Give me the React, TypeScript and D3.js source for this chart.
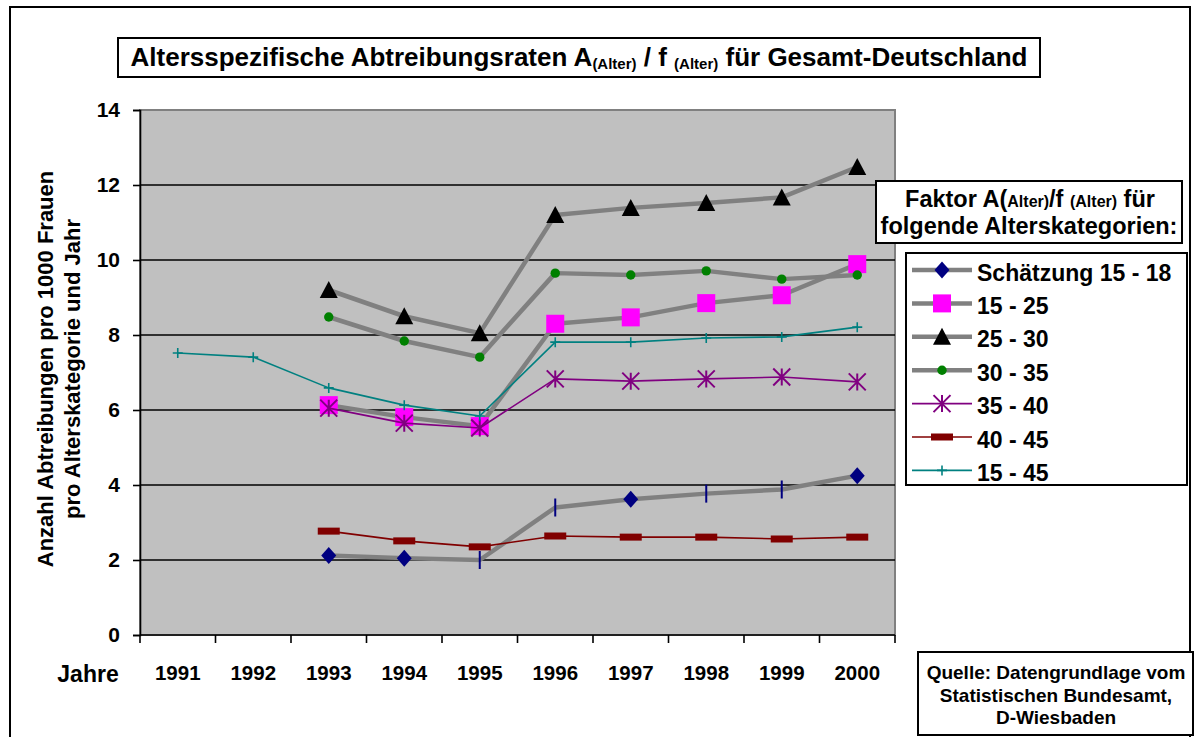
import React, { useEffect, useRef } from 'react';
import * as d3 from 'd3';

// categories / ticks
const years = ['1991', '1992', '1993', '1994', '1995', '1996', '1997', '1998', '1999', '2000'];
const yTicks = [0, 2, 4, 6, 8, 10, 12, 14];

// series values (per 1000 women)
const schaetzung1518 = [null, null, 2.12, 2.05, 2.0, 3.4, 3.62, 3.77, 3.88, 4.25];
const schaetzungMarkers = ['', '', 'diamond', 'diamond', 'vbar', 'vbar', 'diamond', 'vbar', 'vbar', 'diamond'];
const alter1525 = [null, null, 6.13, 5.81, 5.57, 8.3, 8.47, 8.85, 9.06, 9.89];
const alter2530 = [null, null, 9.2, 8.5, 8.05, 11.2, 11.39, 11.52, 11.67, 12.48];
const alter3035 = [null, null, 8.48, 7.84, 7.41, 9.65, 9.6, 9.71, 9.49, 9.6];
const alter3540 = [null, null, 6.05, 5.65, 5.52, 6.83, 6.77, 6.83, 6.88, 6.75];
const alter4045 = [null, null, 2.77, 2.51, 2.35, 2.64, 2.61, 2.61, 2.56, 2.61];
const alter1545 = [7.52, 7.41, 6.59, 6.13, 5.84, 7.81, 7.81, 7.92, 7.95, 8.21];

const sourceLines = ['Quelle: Datengrundlage vom', 'Statistischen Bundesamt,', 'D-Wiesbaden'];

const FONT = "'Liberation Sans', Arial, Helvetica, sans-serif";

type Series = {
  name: string;
  values: (number | null)[];
  stroke: string;
  width: number;
  marker: string;
  markers?: string[];
};

const series: Series[] = [
  { name: 'Schätzung 15 - 18', values: schaetzung1518, stroke: '#808080', width: 4.5, marker: 'diamond', markers: schaetzungMarkers },
  { name: '15 - 25', values: alter1525, stroke: '#808080', width: 4.5, marker: 'square' },
  { name: '25 - 30', values: alter2530, stroke: '#808080', width: 4.5, marker: 'triangle' },
  { name: '30 - 35', values: alter3035, stroke: '#808080', width: 4.5, marker: 'circle' },
  { name: '35 - 40', values: alter3540, stroke: '#800080', width: 1.6, marker: 'star' },
  { name: '40 - 45', values: alter4045, stroke: '#800000', width: 1.6, marker: 'dash' },
  { name: '15 - 45', values: alter1545, stroke: '#008080', width: 1.6, marker: 'plus' },
];

function drawMarker(g: any, type: string, x: number, y: number) {
  if (type === 'diamond') {
    g.append('path').attr('d', `M${x},${y - 8.5}L${x + 7.5},${y}L${x},${y + 8.5}L${x - 7.5},${y}Z`).attr('fill', '#000080');
  } else if (type === 'vbar') {
    g.append('line').attr('x1', x).attr('x2', x).attr('y1', y - 9).attr('y2', y + 9)
      .attr('stroke', '#000080').attr('stroke-width', 2);
  } else if (type === 'square') {
    g.append('rect').attr('x', x - 9).attr('y', y - 9).attr('width', 18).attr('height', 18).attr('fill', '#FF00FF');
  } else if (type === 'triangle') {
    g.append('path').attr('d', `M${x},${y - 9}L${x + 9},${y + 8}L${x - 9},${y + 8}Z`).attr('fill', '#000000');
  } else if (type === 'circle') {
    g.append('circle').attr('cx', x).attr('cy', y).attr('r', 4.7).attr('fill', '#008000');
  } else if (type === 'star') {
    const s = 8.5;
    g.append('path')
      .attr('d', `M${x},${y - s}L${x},${y + s}M${x - s},${y - s}L${x + s},${y + s}M${x - s},${y + s}L${x + s},${y - s}`)
      .attr('stroke', '#800080').attr('stroke-width', 2).attr('fill', 'none');
  } else if (type === 'dash') {
    g.append('rect').attr('x', x - 11).attr('y', y - 3.5).attr('width', 22).attr('height', 7).attr('fill', '#800000');
  } else if (type === 'plus') {
    g.append('path').attr('d', `M${x},${y - 5}L${x},${y + 5}M${x - 5},${y}L${x + 5},${y}`)
      .attr('stroke', '#008080').attr('stroke-width', 1.6).attr('fill', 'none');
  }
}

export default function App() {
  const ref = useRef<SVGSVGElement>(null);

  useEffect(() => {
    const svg = d3.select(ref.current);
    svg.selectAll('*').remove();

    const W = 1197, H = 737;
    const plot = { left: 140, right: 895, top: 110, bottom: 635 };

    // outer chart border
    svg.append('rect').attr('x', 0).attr('y', 0).attr('width', W).attr('height', H).attr('fill', '#fff');
    svg.append('rect').attr('x', 10).attr('y', 7).attr('width', 1180).attr('height', 760)
      .attr('fill', 'none').attr('stroke', '#000').attr('stroke-width', 2);

    const x = d3.scaleBand().domain(years).range([plot.left, plot.right]);
    const y = d3.scaleLinear().domain([0, 14]).range([plot.bottom, plot.top]);
    const cx = (i: number) => (x(years[i]) as number) + x.bandwidth() / 2;

    // plot background with gray border
    svg.append('rect').attr('x', plot.left).attr('y', plot.top)
      .attr('width', plot.right - plot.left).attr('height', plot.bottom - plot.top)
      .attr('fill', '#C0C0C0').attr('stroke', '#808080').attr('stroke-width', 2);

    // gridlines
    svg.append('g').selectAll('line').data(yTicks.filter(t => t > 0 && t < 14)).enter().append('line')
      .attr('x1', plot.left).attr('x2', plot.right)
      .attr('y1', d => y(d)).attr('y2', d => y(d))
      .attr('stroke', '#000').attr('stroke-width', 1.6);

    // y axis
    const yAxis = svg.append('g').attr('transform', `translate(${plot.left},0)`)
      .call(d3.axisLeft(y).tickValues(yTicks).tickSize(7).tickPadding(13).tickFormat(d3.format('d')));
    yAxis.select('.domain').attr('stroke', '#000').attr('stroke-width', 1.6);
    yAxis.selectAll('line').attr('stroke', '#000').attr('stroke-width', 1.6);
    yAxis.selectAll('text').attr('font-family', FONT).attr('font-size', 21).attr('font-weight', 'bold').attr('fill', '#000');

    // x axis: ticks on band boundaries
    const xAxis = svg.append('g').attr('transform', `translate(0,${plot.bottom})`);
    xAxis.append('line').attr('x1', plot.left).attr('x2', plot.right).attr('y1', 0).attr('y2', 0)
      .attr('stroke', '#000').attr('stroke-width', 1.6);
    const bounds = years.map(yr => x(yr) as number).concat([plot.right]);
    xAxis.selectAll('line.tick').data(bounds).enter().append('line').attr('class', 'tick')
      .attr('x1', d => d).attr('x2', d => d).attr('y1', 0).attr('y2', 8)
      .attr('stroke', '#000').attr('stroke-width', 1.6);
    xAxis.selectAll('text').data(years).enter().append('text')
      .attr('x', (d, i) => cx(i)).attr('y', 45)
      .attr('text-anchor', 'middle').attr('font-family', FONT).attr('font-size', 20.5).attr('font-weight', 'bold')
      .text(d => d);
    svg.append('text').attr('x', 88).attr('y', plot.bottom + 47).attr('text-anchor', 'middle')
      .attr('font-family', FONT).attr('font-size', 23).attr('font-weight', 'bold').text('Jahre');

    // y axis title
    const yt = svg.append('text').attr('transform', 'translate(53,369) rotate(-90)')
      .attr('text-anchor', 'middle').attr('font-family', FONT).attr('font-size', 22).attr('font-weight', 'bold');
    yt.append('tspan').attr('x', 0).attr('y', 0).text('Anzahl Abtreibungen pro 1000 Frauen');
    yt.append('tspan').attr('x', 0).attr('y', 27).text('pro Alterskategorie und Jahr');

    // series
    series.forEach(s => {
      const g = svg.append('g');
      const pts = s.values.map((v, i) => ({ v, i })).filter(p => p.v !== null) as { v: number; i: number }[];
      const line = d3.line<{ v: number; i: number }>().x(p => cx(p.i)).y(p => y(p.v));
      g.append('path').attr('d', line(pts) as string).attr('fill', 'none')
        .attr('stroke', s.stroke).attr('stroke-width', s.width).attr('stroke-linejoin', 'round');
      pts.forEach(p => drawMarker(g, s.markers ? s.markers[p.i] : s.marker, cx(p.i), y(p.v)));
    });

    // title
    const tg = svg.append('g');
    tg.append('rect').attr('x', 118).attr('y', 38).attr('width', 922).attr('height', 39)
      .attr('fill', '#fff').attr('stroke', '#000').attr('stroke-width', 2);
    const tt = tg.append('text').attr('x', 579).attr('y', 66).attr('text-anchor', 'middle')
      .attr('font-family', FONT).attr('font-size', 26).attr('font-weight', 'bold');
    tt.append('tspan').text('Altersspezifische Abtreibungsraten A');
    tt.append('tspan').attr('font-size', 15).attr('dy', 3).text('(Alter)');
    tt.append('tspan').attr('dy', -3).text(' / f ');
    tt.append('tspan').attr('font-size', 15).attr('dy', 3).text('(Alter)');
    tt.append('tspan').attr('dy', -3).text(' für Gesamt-Deutschland');

    // legend title box
    const lt = svg.append('g');
    lt.append('rect').attr('x', 876).attr('y', 181).attr('width', 306).attr('height', 62)
      .attr('fill', '#fff').attr('stroke', '#000').attr('stroke-width', 2);
    const l1 = lt.append('text').attr('x', 1030).attr('y', 207).attr('text-anchor', 'middle')
      .attr('font-family', FONT).attr('font-size', 23.5).attr('font-weight', 'bold');
    l1.append('tspan').text('Faktor A(');
    l1.append('tspan').attr('font-size', 16).text('Alter)');
    l1.append('tspan').text('/f ');
    l1.append('tspan').attr('font-size', 16).text('(Alter)');
    l1.append('tspan').text(' für');
    lt.append('text').attr('x', 1029).attr('y', 234).attr('text-anchor', 'middle')
      .attr('font-family', FONT).attr('font-size', 23.5).attr('font-weight', 'bold').text('folgende Alterskategorien:');

    // legend
    const lg = svg.append('g');
    lg.append('rect').attr('x', 906).attr('y', 253).attr('width', 281).attr('height', 232)
      .attr('fill', '#fff').attr('stroke', '#000').attr('stroke-width', 2);
    series.forEach((s, i) => {
      const ly = 270 + i * 33.4;
      const row = lg.append('g');
      row.append('line').attr('x1', 912).attr('x2', 972).attr('y1', ly).attr('y2', ly)
        .attr('stroke', s.stroke).attr('stroke-width', s.width);
      drawMarker(row, s.marker, 942, ly);
      row.append('text').attr('x', 977).attr('y', ly + 10.5).attr('font-family', FONT).attr('font-size', 23)
        .attr('font-weight', 'bold').text(s.name);
    });

    // source box
    const sg = svg.append('g');
    sg.append('rect').attr('x', 918).attr('y', 652).attr('width', 275).attr('height', 83)
      .attr('fill', '#fff').attr('stroke', '#000').attr('stroke-width', 2);
    sourceLines.forEach((t, i) => {
      sg.append('text').attr('x', 1056).attr('y', 679 + i * 22.5).attr('text-anchor', 'middle')
        .attr('font-family', FONT).attr('font-size', 19).attr('font-weight', 'bold').text(t);
    });
  }, []);

  return (
    <svg ref={ref} width={1197} height={737} style={{ position: 'absolute', left: 0, top: 0 }} />
  );
}
